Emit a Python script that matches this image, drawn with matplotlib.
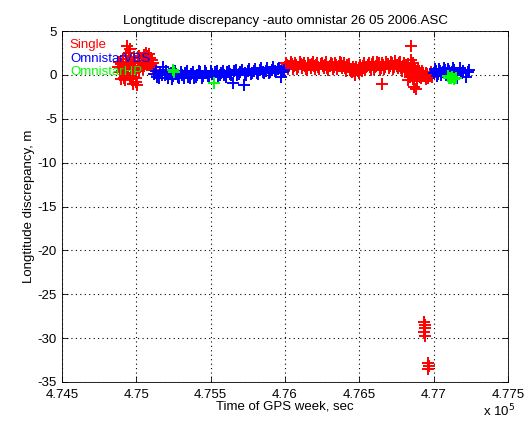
import matplotlib
matplotlib.use("Agg")
import matplotlib.pyplot as plt

# GPS time of week (sec) and longitude discrepancy (m)
single_t = [
    474880, 474890, 474900, 474905, 474915, 474920, 474930, 474935, 474940, 474945,
    474950, 474955, 474960, 474965, 474970, 474975, 474985, 474990, 474995, 475000,
    475005, 475010, 475020, 475025, 475030, 475040, 475050, 475055, 475060, 475070,
    475080, 475090, 475100, 475110, 475120,
    474885, 474895, 474910, 474925, 474938, 474948, 474958, 474968, 474978, 474988,
    474998, 475008, 475015, 475035, 475045, 475065, 475075, 475085, 475095, 475105,
    475115,
    476000, 476015, 476030, 476045, 476060, 476075, 476090, 476105, 476120, 476135,
    476150, 476165, 476180, 476195, 476210, 476225, 476240, 476255, 476270, 476285,
    476300, 476315, 476330, 476345, 476360, 476375, 476390, 476405, 476420, 476435,
    476450, 476465, 476480, 476495, 476510, 476525, 476540, 476555, 476570, 476585,
    476600, 476615, 476630, 476645, 476650, 476660, 476675, 476690, 476705, 476720,
    476735, 476750, 476765, 476780, 476795, 476810, 476820, 476830, 476840, 476846,
    476850, 476855, 476860, 476865, 476870, 476880, 476885, 476895, 476905, 476920,
    476935, 476950, 476965, 476980, 476990,
    476008, 476022, 476038, 476052, 476068, 476082, 476098, 476112, 476128, 476142,
    476158, 476172, 476188, 476202, 476218, 476232, 476248, 476262, 476278, 476292,
    476308, 476322, 476338, 476352, 476368, 476382, 476398, 476412, 476428, 476442,
    476458, 476472, 476488, 476502, 476518, 476532, 476548, 476562, 476578, 476592,
    476608, 476622, 476638, 476652, 476668, 476682, 476698, 476712, 476728, 476742,
    476758, 476772, 476788, 476802, 476815, 476825, 476835, 476845, 476858, 476875,
    476890, 476900, 476915, 476928, 476945, 476958, 476972, 476985,
    476935, 476940, 476938, 476942, 476940, 476962, 476967, 476965,
]
single_y = [
    0.9, 0.3, 1.2, 0.5, -0.3, 0.8, 2.2, 3.3, 1.5, 0.6,
    1.8, 3.0, -0.5, 1.0, 0.2, -1.0, 2.0, 1.3, -0.8, 0.5,
    -1.1, 1.6, 2.2, 0.9, 1.0, 1.9, 2.3, 1.2, 1.5, 2.1,
    1.8, 1.4, 1.2, 0.9, 0.6,
    1.5, -0.5, 1.8, -0.6, 0.2, 2.5, 1.4, -0.2, 0.6, 0.8,
    -0.4, 2.0, 0.4, 1.6, 0.7, 2.5, 1.1, 2.4, 1.9, 1.7,
    1.3,
    0.9, 1.1, 1.0, 1.2, 1.0, 1.1, 0.9, 1.2, 1.1, 1.0,
    0.6, 1.1, 1.2, 1.0, 1.1, 0.9, 1.2, 1.0, 1.1, 0.8,
    1.0, 1.2, 0.9, 1.1, 1.0, 1.3, 1.0, 0.8, 1.1, 0.7,
    0.3, 0.5, 0.9, 0.2, 0.8, 1.0, 0.6, 1.1, 0.9, 1.2,
    0.7, 1.0, 1.3, 0.8, -1.0, 1.1, 0.9, 1.2, 1.0, 1.3,
    0.9, 1.1, 1.4, 0.8, 1.0, 0.6, 0.3, 1.2, -0.2, 3.3,
    1.7, 0.5, -0.5, 1.0, -1.4, -1.6, 0.2, 0.8, -0.2, 0.4,
    -0.1, 0.2, -0.3, 0.0, -0.2,
    1.4, 0.7, 1.5, 0.7, 1.4, 0.7, 1.5, 0.8, 1.4, 0.7,
    1.4, 0.8, 1.5, 0.7, 1.4, 0.7, 1.4, 0.8, 1.5, 0.6,
    1.4, 0.7, 1.4, 0.7, 1.5, 0.8, 1.4, 0.5, 1.2, 0.4,
    0.9, 0.0, 0.4, 1.1, 0.5, 1.3, 0.9, 1.4, 0.6, 1.5,
    0.9, 1.5, 0.6, 1.4, 0.7, 1.5, 0.8, 1.5, 0.7, 1.6,
    0.8, 1.5, 0.5, 1.3, 0.9, -0.6, 0.8, 1.0, 1.3, 0.6,
    -0.7, 0.5, -0.4, 0.2, -0.5, 0.1, -0.1, 0.3,
    -28.2, -28.8, -29.3, -29.8, -28.5, -32.8, -33.2, -33.5,
]

vbs_t = [
    475120, 475140, 475160, 475180, 475190, 475210, 475230, 475250, 475270, 475290,
    475310, 475330, 475350, 475370, 475390, 475410, 475430, 475450, 475470, 475490,
    475510, 475530, 475550, 475570, 475590, 475610, 475630, 475650, 475660, 475680,
    475700, 475723, 475730, 475750, 475770, 475790, 475810, 475830, 475850, 475870,
    475890, 475910, 475930, 475950, 475970, 475975, 475990,
    475130, 475150, 475170, 475200, 475220, 475240, 475260, 475280, 475300, 475320,
    475340, 475360, 475380, 475400, 475420, 475440, 475460, 475480, 475500, 475520,
    475540, 475560, 475580, 475600, 475620, 475640, 475670, 475690, 475710, 475740,
    475760, 475780, 475800, 475820, 475840, 475860, 475880, 475900, 475920, 475940,
    475960, 475985,
    477000, 477015, 477030, 477045, 477060, 477075, 477090, 477105, 477120, 477135,
    477150, 477160, 477175, 477185, 477200, 477215, 477230, 477240,
    477008, 477022, 477038, 477052, 477068, 477082, 477098, 477112, 477128, 477142,
]
vbs_y = [
    0.1, -0.2, 0.3, 0.9, 0.0, -0.3, 0.2, -0.1, 0.1, -0.4,
    0.0, 0.2, -0.2, 0.1, -0.3, 0.0, 0.3, -0.1, 0.2, -0.2,
    0.1, 0.3, -0.1, 0.2, 0.0, 0.3, 0.1, -0.9, 0.4, 0.0,
    0.3, -1.1, 0.2, 0.5, 0.1, 0.4, 0.2, 0.6, 0.3, 0.5,
    0.2, 0.6, 0.4, 0.7, -0.2, 0.5, 0.6,
    0.4, -0.4, 0.0, 0.5, 0.1, -0.5, 0.4, -0.2, 0.3, -0.3,
    0.4, -0.4, 0.3, -0.2, 0.4, -0.3, 0.5, -0.1, 0.4, -0.2,
    0.4, 0.0, 0.5, -0.2, 0.5, 0.0, 0.6, 0.1, 0.6, 0.0,
    0.7, 0.2, 0.7, 0.1, 0.8, 0.2, 0.8, 0.3, 0.9, 0.3,
    0.8, 0.3,
    0.2, 0.5, 0.1, 0.4, 0.3, 0.6, 0.2, 0.5, 0.3, 0.6,
    0.0, -0.3, 0.8, 0.2, 0.5, -0.2, 0.3, 0.6,
    0.7, -0.1, 0.7, 0.0, 0.8, 0.0, 0.7, 0.1, 0.8, 0.2,
]

hp_t = [475249, 475255, 475523, 477094, 477105, 477115, 477125, 477135, 477150]
hp_y = [0.6, 0.3, -0.9, -0.1, -0.3, -0.4, -0.2, -0.5, -0.3]

xticks = [474500, 475000, 475500, 476000, 476500, 477000, 477500]
yticks = [5, 0, -5, -10, -15, -20, -25, -30, -35]

plt.rcParams["font.family"] = ["Liberation Sans", "DejaVu Sans"]
plt.rcParams["font.size"] = 9.5
plt.rcParams["axes.unicode_minus"] = False

fig = plt.figure(figsize=(5.27, 4.22), dpi=100)
ax = fig.add_axes([0.1176, 0.0948, 0.8464, 0.8317])

ax.plot(single_t, single_y, "+", color="red", ms=8, mew=1.4, label="Single")
ax.plot(vbs_t, vbs_y, "+", color="blue", ms=8, mew=1.4, label="OmnistarVBS")
ax.plot(hp_t, hp_y, "+", color="lime", ms=8, mew=1.4, label="OmnistarHP")

ax.set_xlim(474500, 477500)
ax.set_ylim(-35, 5)
ax.set_xticks(xticks)
ax.set_xticklabels(["%g" % (t / 1e5) for t in xticks])
ax.set_yticks(yticks)
ax.grid(True, color="black", linestyle=(0, (1, 3)), linewidth=0.8)
ax.tick_params(direction="in", top=True, right=True, length=4, width=0.6)
ax.tick_params(axis="x", pad=5)
for s in ax.spines.values():
    s.set_linewidth(0.6)

ax.set_title("Longtitude discrepancy -auto omnistar 26 05 2006.ASC", fontsize=9.5, pad=5)
ax.set_xlabel("Time of GPS week, sec", labelpad=0)
ax.set_ylabel("Longtitude discrepancy, m", labelpad=2)
ax.text(0.945, -0.06, r"x 10$^{5}$", transform=ax.transAxes, ha="left", va="top")

leg = ax.legend(loc="upper left", frameon=False, handlelength=0, handletextpad=0,
                labelcolor="linecolor", borderaxespad=0.2, labelspacing=0.1,
                fontsize=9.5)
for h in leg.legend_handles:
    h.set_visible(False)

fig.savefig("out.png", dpi=100)
